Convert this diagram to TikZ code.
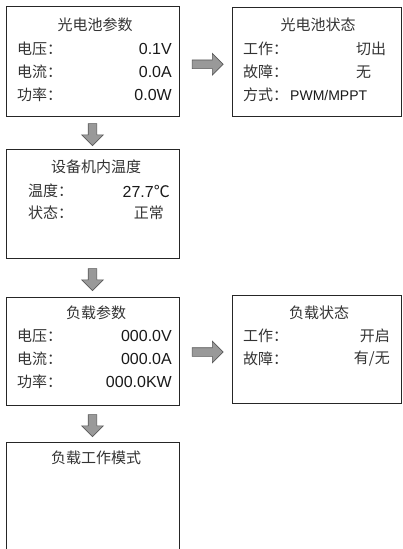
\documentclass[tikz,border=0pt]{standalone}
\usepackage{fontspec}
\setmainfont{Liberation Sans}
\newfontfamily\zh{Noto Sans CJK SC}
\usetikzlibrary{shapes.arrows,calc}
\tikzset{
  panel/.style = {draw=black!85, line width=0.8pt, rectangle,
    inner sep=0pt},% cadre d'ecran
  ttl/.style = {inner sep=0pt, text=black!80, font=\zh\fontsize{15}{18}\selectfont},% titre
  lbl/.style = {ttl, anchor=west},% etiquette a gauche
  val/.style = {inner sep=0pt, text=black!90, font=\fontsize{16}{18}\selectfont,
    anchor=east},% valeur a droite
  blk/.style = {single arrow, draw=black!65, fill=black!40, line width=0.6pt,
    inner sep=4pt, minimum width=21pt, single arrow head extend=6.5pt,
    single arrow head indent=0pt}% fleche pleine
}

\begin{document}
\begin{tikzpicture}[x=1pt,y=-1pt]
  \useasboundingbox (0,0) rectangle (403,549);
  % ecrans
  \node [panel, minimum width=173pt, minimum height=110pt] (pvpar) at (92.5,61) {};
  \node [panel, minimum width=169pt, minimum height=109pt] (pvstat) at (316.5,61.5) {};
  \node [panel, minimum width=173pt, minimum height=109pt] (temp) at (92.5,203.5) {};
  \node [panel, minimum width=173pt, minimum height=108pt] (loadpar) at (92.5,351) {};
  \node [panel, minimum width=169pt, minimum height=108pt] (loadstat) at (316.5,349) {};
  \node [panel, minimum width=173pt, minimum height=130pt] (loadmode) at (92.5,507) {};

  % parametres du panneau
  \node [ttl] (pvparT) at (95,25) {光电池参数};
  \node [lbl] (pvparL1) at (17,49) {电压：};
  \node [lbl] (pvparL2) at (17,72) {电流：};
  \node [lbl] (pvparL3) at (17,95) {功率：};
  \node [val] (pvparV1) at (172,49) {0.1V};
  \node [val] (pvparV2) at (172,72) {0.0A};
  \node [val] (pvparV3) at (172,95) {0.0W};

  % etat du panneau
  \node [ttl] (pvstatT) at (318,25) {光电池状态};
  \node [lbl] (pvstatL1) at (243,49) {工作：};
  \node [lbl] (pvstatL2) at (243,72) {故障：};
  \node [lbl] (pvstatL3) at (243,95) {方式：};
  \node [lbl] (pvstatV1) at (356,49) {切出};
  \node [lbl] (pvstatV2) at (356,72) {无};
  \node [val, anchor=west, font=\fontsize{14}{16}\selectfont] (pvstatV3)
    at (290,95) {PWM/MPPT};

  % temperature interne
  \node [ttl] (tempT) at (96,167) {设备机内温度};
  \node [lbl] (tempL1) at (28,191) {温度：};
  \node [lbl] (tempL2) at (28,213) {状态：};
  \node [val] (tempV1) at (170,191) {27.7{\zh ℃}};
  \node [ttl, anchor=east] (tempV2) at (164,213) {正常};

  % parametres de la charge
  \node [ttl] (loadparT) at (96,313) {负载参数};
  \node [lbl] (loadparL1) at (17,336) {电压：};
  \node [lbl] (loadparL2) at (17,359) {电流：};
  \node [lbl] (loadparL3) at (17,382) {功率：};
  \node [val] (loadparV1) at (172,336) {000.0V};
  \node [val] (loadparV2) at (172,359) {000.0A};
  \node [val] (loadparV3) at (172,382) {000.0KW};

  % etat de la charge
  \node [ttl] (loadstatT) at (319,313) {负载状态};
  \node [lbl] (loadstatL1) at (243,336) {工作：};
  \node [lbl] (loadstatL2) at (243,359) {故障：};
  \node [ttl, anchor=east] (loadstatV1) at (390,336) {开启};
  \node [ttl, anchor=east] (loadstatV2) at (390,359) {有/无};

  % mode de travail
  \node [ttl] (loadmodeT) at (96,458) {负载工作模式};

  % fleches
  \node [blk, minimum height=31pt] (a1) at ($(pvpar.east)!0.5!(pvstat.west)+(0,3)$) {};
  \node [blk, minimum height=22pt, rotate=-90] (a2) at ($(pvpar.south)!0.5!(temp.north)$) {};
  \node [blk, minimum height=22pt, rotate=-90] (a3) at ($(temp.south)!0.5!(loadpar.north)$) {};
  \node [blk, minimum height=31pt] (a4) at ($(loadpar.east)!0.5!(loadstat.west)+(0,2)$) {};
  \node [blk, minimum height=22pt, rotate=-90] (a5) at ($(loadpar.south)!0.5!(loadmode.north)$) {};
\end{tikzpicture}
\end{document}
